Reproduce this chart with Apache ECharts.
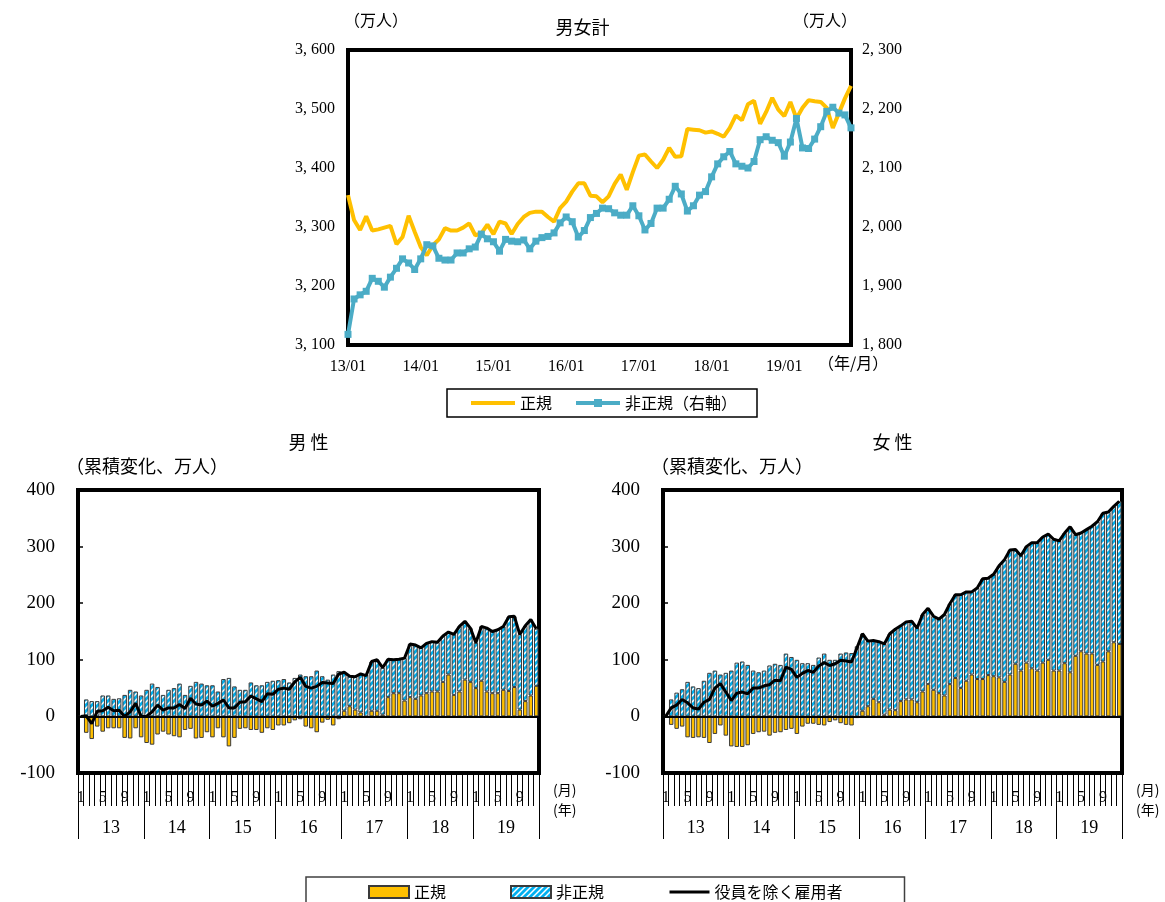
<!DOCTYPE html>
<html>
<head>
<meta charset="utf-8">
<script src="https://cdn.jsdelivr.net/npm/echarts@6/dist/echarts.min.js"></script>
<style>
  html, body { margin: 0; padding: 0; background: #fff; }
  #top { position: absolute; left: 0; top: 0; width: 1165px; height: 425px; }
  #bottom { position: absolute; left: 0; top: 425px; width: 1165px; height: 477px; }
</style>
</head>
<body>
<div id="top"></div>
<div id="bottom"></div>
<script>
// Period: January 2013 – December 2019 (year suffix / month)
const YEARS = ['13', '14', '15', '16', '17', '18', '19'];
const MONTHS = ['01', '02', '03', '04', '05', '06', '07', '08', '09', '10', '11', '12'];

// 男女計, 万人 (正規 on the left axis, 非正規 on the right axis)
const totalRegular = [
  3354, 3312, 3295, 3318, 3294, 3296, 3299, 3302, 3271, 3283, 3319, 3292,
  3266, 3252, 3269, 3279, 3298, 3294, 3294, 3299, 3306, 3286, 3289, 3304,
  3288, 3309, 3306, 3288, 3305, 3317, 3324, 3326, 3326, 3317, 3309, 3332,
  3343, 3360, 3374, 3374, 3353, 3352, 3342, 3352, 3373, 3389, 3363, 3393,
  3421, 3423, 3411, 3400, 3414, 3434, 3419, 3420, 3466, 3465, 3464, 3460,
  3462, 3458, 3453, 3468, 3489, 3481, 3508, 3514, 3475, 3495, 3519, 3499,
  3488, 3512, 3484, 3502, 3515, 3513, 3512, 3502, 3468, 3493, 3518, 3539
];
const totalNonRegular = [
  1818, 1878, 1885, 1891, 1913, 1908, 1898, 1915, 1930, 1946, 1939, 1928,
  1946, 1970, 1968, 1947, 1944, 1944, 1956, 1956, 1963, 1966, 1988, 1980,
  1975, 1959, 1979, 1976, 1975, 1978, 1963, 1976, 1982, 1984, 1990, 2007,
  2017, 2009, 1983, 1994, 2016, 2023, 2032, 2031, 2024, 2020, 2020, 2036,
  2019, 1995, 2006, 2032, 2032, 2047, 2069, 2056, 2027, 2036, 2054, 2060,
  2085, 2107, 2119, 2128, 2107, 2103, 2100, 2111, 2148, 2153, 2147, 2143,
  2120, 2144, 2184, 2134, 2133, 2149, 2170, 2196, 2203, 2193, 2190, 2168
];

// 男性, cumulative change since 2013/01 (万人)
const menRegular = [
     0, -29, -40, -18, -27, -21, -21, -21, -38, -39, -21, -37,
   -47, -50, -32, -27, -32, -35, -37, -24, -22, -39, -38, -28,
   -37, -21, -37, -53, -38, -22, -21, -24, -24, -29, -21, -24,
   -16, -16, -12,  -7,  -5, -18, -21, -28, -11,  -6, -16,  -5,
    10,  18,  12,   7,  -2,  10,  10,   3,  34,  41,  41,  28,
    34,  31,  37,  41,  44,  44,  61,  74,  38,  44,  65,  61,
    50,  63,  44,  41,  41,  47,  45,  52,  12,  27,  37,  54
];
const menNonRegular = [
     0,  30,  27,  27,  37,  37,  31,  32,  38,  47,  44,  37,
    47,  58,  52,  38,  47,  50,  58,  38,  54,  61,  58,  55,
    55,  44,  66,  68,  53,  47,  47,  60,  55,  55,  61,  63,
    64,  66,  60,  68,  74,  71,  71,  81,  71,  65,  74,  80,
    68,  53,  58,  68,  74,  87,  90,  83,  67,  59,  60,  75,
    94,  95,  84,  88,  88,  87,  81,  75, 107, 115, 103,  95,
    80,  96, 112, 109, 112, 112, 131, 125, 133, 133, 134, 101
];

// 女性, cumulative change since 2013/01 (万人)
const womenRegular = [
     0, -15, -22, -18, -37, -38, -37, -38, -47, -31, -16, -34,
   -53, -54, -54, -51, -31, -28, -27, -34, -29, -28, -24, -22,
   -31, -18, -13, -13, -15, -16, -10,  -7, -12, -15, -16,  -3,
    10,  18,  31,  25,   3,  12,  11,  27,  30,  30,  25,  44,
    57,  47,  41,  37,  57,  68,  50,  63,  74,  66,  66,  73,
    71,  69,  61,  74,  93,  81,  95,  85,  81,  95, 100,  81,
    81,  94,  78, 107, 115, 111, 111,  91,  97, 115, 131, 128
];
const womenNonRegular = [
     0,  30,  42,  48,  61,  53,  50,  63,  77,  81,  74,  77,
    81,  95,  97,  91,  81,  78,  81,  90,  93,  91, 111, 105,
   100,  94,  94,  91, 104, 111, 100, 100, 111, 113, 112, 124,
   136, 115, 103, 107, 125, 134, 143, 133, 137, 138, 131, 136,
   134, 130, 131, 143, 142, 147, 165, 157, 146, 161, 177, 171,
   180, 197, 216, 220, 202, 203, 205, 222, 226, 222, 222, 232,
   229, 230, 257, 214, 209, 219, 225, 253, 262, 246, 240, 252
];

// Month categories "13/01" ... "19/12"
const periods = [];
YEARS.forEach(y => MONTHS.forEach(m => periods.push(y + '/' + m)));

// 役員を除く雇用者 = 正規 + 非正規
const sumOf = (a, b) => a.map((v, i) => v + b[i]);
const menTotal = sumOf(menRegular, menNonRegular);
const womenTotal = sumOf(womenRegular, womenNonRegular);

const SERIF = '"Liberation Serif", "DejaVu Serif", serif';
const JP = '"Noto Sans CJK JP", sans-serif';
const YELLOW = '#FFC000';
const BLUE_LINE = '#4BACC6';
const HIDDEN_MARK = { color: 'rgba(0,0,0,0)', borderWidth: 0, opacity: 0 };

// diagonal dashed hatch used for the 非正規 bars
function hatchPattern() {
  const c = document.createElement('canvas');
  c.width = 6; c.height = 6;
  const g = c.getContext('2d');
  g.fillStyle = '#ffffff';
  g.fillRect(0, 0, 6, 6);
  g.strokeStyle = '#00B0F0';
  g.lineWidth = 2.8;
  g.beginPath();
  g.moveTo(-1, 7); g.lineTo(7, -1);
  g.moveTo(-1, 1); g.lineTo(1, -1);
  g.moveTo(5, 7); g.lineTo(7, 5);
  g.stroke();
  return c;
}
const HATCH = { image: hatchPattern(), repeat: 'repeat' };

const withComma = v => {
  const s = String(v);
  return s.length > 3 ? s.slice(0, -3) + ', ' + s.slice(-3) : s;
};

/* ---------- 男女計 ---------- */
const topChart = echarts.init(document.getElementById('top'));
topChart.setOption({
  animation: false,
  backgroundColor: '#fff',
  grid: {
    left: 348, top: 50, width: 503, height: 295,
    show: true, borderColor: '#000', borderWidth: 4, backgroundColor: 'transparent'
  },
  xAxis: {
    type: 'category', data: periods, boundaryGap: false,
    axisLine: { show: false, onZero: false }, axisTick: { show: false },
    axisLabel: {
      interval: i => i % 12 === 0,
      margin: 14, color: '#000', fontFamily: SERIF, fontSize: 16
    },
    splitLine: { show: false }
  },
  yAxis: [
    {
      type: 'value', min: 3100, max: 3600, interval: 100,
      axisLine: { show: false }, axisTick: { show: false }, splitLine: { show: false },
      axisLabel: { formatter: withComma, margin: 13, color: '#000', fontFamily: SERIF, fontSize: 16 }
    },
    {
      type: 'value', min: 1800, max: 2300, interval: 100, position: 'right',
      axisLine: { show: false }, axisTick: { show: false }, splitLine: { show: false },
      axisLabel: { formatter: withComma, margin: 11, color: '#000', fontFamily: SERIF, fontSize: 16 }
    }
  ],
  legend: {
    left: 447, top: 389,
    padding: [6, 20, 6, 22], itemGap: 22,
    borderColor: '#000', borderWidth: 1.5,
    itemWidth: 44, itemHeight: 10,
    textStyle: { fontFamily: JP, fontSize: 16, color: '#000' },
    data: [
      { name: '正規', itemStyle: HIDDEN_MARK, lineStyle: { width: 4 } },
      { name: '非正規（右軸）', lineStyle: { width: 4 } }
    ]
  },
  graphic: [
    { type: 'text', left: 'center', top: 18, style: { text: '男女計', font: '18px ' + JP, fill: '#000' } },
    { type: 'text', left: 344, top: 12, style: { text: '（万人）', font: '16px ' + JP, fill: '#000' } },
    { type: 'text', left: 793, top: 12, style: { text: '（万人）', font: '16px ' + JP, fill: '#000' } },
    { type: 'text', left: 818, top: 355, style: { text: '（年/月）', font: '16px ' + JP, fill: '#000' } }
  ],
  series: [
    {
      name: '正規', type: 'line', yAxisIndex: 0, data: totalRegular,
      symbol: 'none', lineStyle: { color: YELLOW, width: 4 },
      itemStyle: { color: YELLOW }, z: 3
    },
    {
      name: '非正規（右軸）', type: 'line', yAxisIndex: 1, data: totalNonRegular,
      symbol: 'rect', symbolSize: 7, showSymbol: true, showAllSymbol: true,
      lineStyle: { color: BLUE_LINE, width: 4 },
      itemStyle: { color: BLUE_LINE }, z: 4
    }
  ]
});

/* ---------- 男性 / 女性 ---------- */
const bottomChart = echarts.init(document.getElementById('bottom'));

const panels = [
  { title: '男 性', left: 78, width: 461, reg: menRegular, non: menNonRegular, tot: menTotal },
  { title: '女 性', left: 663, width: 459, reg: womenRegular, non: womenNonRegular, tot: womenTotal }
];

const grids = [], xAxes = [], yAxes = [], series = [], graphics = [];
panels.forEach((p, k) => {
  grids.push({
    left: p.left, top: 65, width: p.width, height: 283,
    show: true, borderColor: '#000', borderWidth: 4, backgroundColor: 'transparent'
  });
  // month axis
  xAxes.push({
    type: 'category', gridIndex: k, data: periods, boundaryGap: true, position: 'bottom',
    axisLine: { show: false, onZero: false },
    axisTick: { show: true, interval: 0, length: 33, lineStyle: { color: '#000', width: 1 } },
    axisLabel: {
      interval: i => i % 12 === 0 || i % 12 === 4 || i % 12 === 8,
      formatter: v => String(Number(v.split('/')[1])),
      margin: 17, color: '#000', fontFamily: SERIF, fontSize: 16
    }
  });
  // year axis
  xAxes.push({
    type: 'category', gridIndex: k, data: YEARS, boundaryGap: true, position: 'bottom',
    axisLine: { show: false, onZero: false },
    axisTick: { show: true, interval: 0, length: 66, lineStyle: { color: '#000', width: 1 } },
    axisLabel: { margin: 46, color: '#000', fontFamily: SERIF, fontSize: 18 }
  });
  yAxes.push({
    type: 'value', gridIndex: k, min: -100, max: 400, interval: 100,
    axisLine: { show: false },
    axisTick: { show: true, inside: true, length: 5, lineStyle: { color: '#000', width: 1.5 } },
    splitLine: { show: false },
    axisLabel: { margin: 23, color: '#000', fontFamily: SERIF, fontSize: 19 }
  });
  const xi = k * 2;
  series.push({
    name: '正規', type: 'bar', xAxisIndex: xi, yAxisIndex: k, stack: 'emp' + k,
    data: p.reg, barCategoryGap: '18%',
    itemStyle: { color: YELLOW, borderColor: '#3a3a3a', borderWidth: 1 }
  });
  series.push({
    name: '非正規', type: 'bar', xAxisIndex: xi, yAxisIndex: k, stack: 'emp' + k,
    data: p.non, barCategoryGap: '18%',
    itemStyle: { color: HATCH, borderColor: '#3a3a3a', borderWidth: 1 }
  });
  series.push({
    name: '役員を除く雇用者', type: 'line', xAxisIndex: xi, yAxisIndex: k,
    data: p.tot, symbol: 'none', z: 5,
    lineStyle: { color: '#000', width: 3 }, itemStyle: { color: '#000' },
    markLine: {
      silent: true, symbol: 'none', label: { show: false },
      lineStyle: { color: '#000', width: 2, type: 'solid' },
      data: [{ yAxis: 0 }]
    }
  });
  const cx = p.left + p.width / 2;
  graphics.push(
    { type: 'text', x: cx, y: 8, style: { text: p.title, font: '18px ' + JP, fill: '#000', align: 'center' } },
    { type: 'text', x: p.left - 12, y: 32, style: { text: '（累積変化、万人）', font: '18px ' + JP, fill: '#000' } },
    { type: 'text', x: p.left + p.width + 14, y: 358, style: { text: '(月)', font: '14px ' + JP, fill: '#000' } },
    { type: 'text', x: p.left + p.width + 14, y: 378, style: { text: '(年)', font: '14px ' + JP, fill: '#000' } }
  );
});

bottomChart.setOption({
  animation: false,
  backgroundColor: '#fff',
  grid: grids,
  xAxis: xAxes,
  yAxis: yAxes,
  legend: {
    left: 306, top: 452,
    padding: [7, 62, 12, 62], itemGap: 64,
    borderColor: '#404040', borderWidth: 1.5,
    itemWidth: 40, itemHeight: 12,
    textStyle: { fontFamily: JP, fontSize: 16, color: '#000' },
    data: [
      { name: '正規', icon: 'rect' },
      { name: '非正規', icon: 'rect' },
      { name: '役員を除く雇用者', itemStyle: HIDDEN_MARK, lineStyle: { width: 3 } }
    ]
  },
  graphic: graphics,
  series: series
});
</script>
</body>
</html>
